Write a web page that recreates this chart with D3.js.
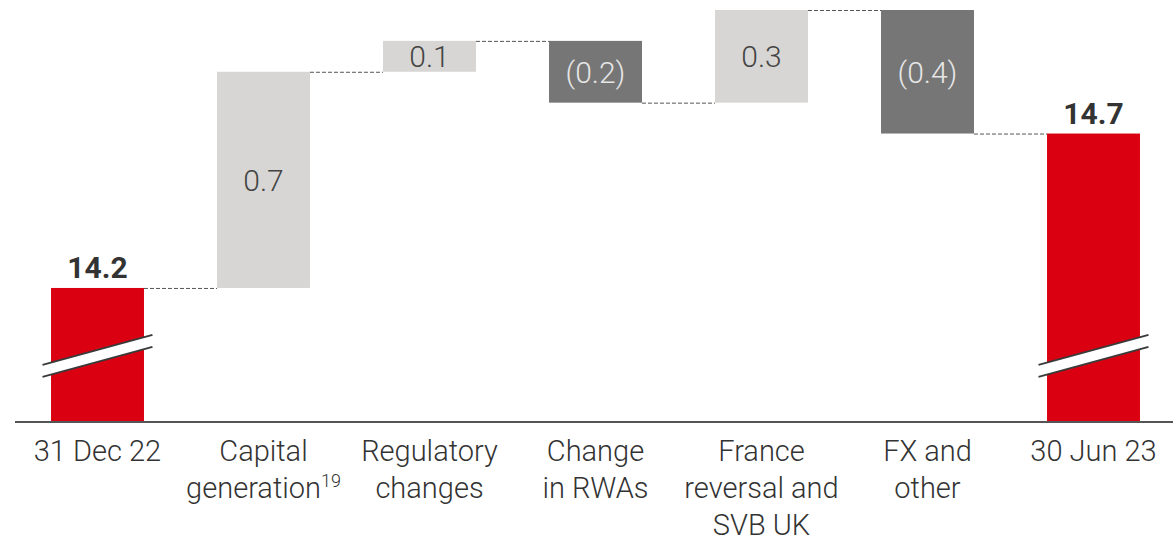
<!DOCTYPE html>
<html>
<head>
<meta charset="utf-8">
<script src="https://cdn.jsdelivr.net/npm/d3@7"></script>
<style>
  html, body { margin: 0; padding: 0; background: #fff; }
  svg { display: block; font-family: Roboto, "Noto Sans", sans-serif; }
</style>
</head>
<body>
<svg id="chart" width="1173" height="542"></svg>
<script>
// CET1 capital walk, $bn
const categories = ["31 Dec 22", "Capital generation", "Regulatory changes", "Change in RWAs",
                    "France reversal and SVB UK", "FX and other", "30 Jun 23"];
const labelLines = [["31 Dec 22"], ["Capital", "generation"], ["Regulatory", "changes"],
                    ["Change", "in RWAs"], ["France", "reversal and", "SVB UK"],
                    ["FX and", "other"], ["30 Jun 23"]];
const footnotes = ["", "19", "", "", "", "", ""];
const kinds = ["total", "delta", "delta", "delta", "delta", "delta", "total"];
const values = [14.2, 0.7, 0.1, -0.2, 0.3, -0.4, 14.7];
const valueLabels = ["14.2", "0.7", "0.1", "(0.2)", "0.3", "(0.4)", "14.7"];

// axis is broken: the baseline stands for this value, break drawn at breakValue
const axisFloor = 13.766;
const axisTop = 15.1;
const breakValue = 13.98;

const W = 1173, H = 542;
const svg = d3.select("#chart");

// build waterfall segments
let running = 0;
const bars = values.map((v, i) => {
  let start, end;
  if (kinds[i] === "total") { start = axisFloor; end = v; running = v; }
  else { start = running; end = running + v; running = end; }
  return { i, cat: categories[i], kind: kinds[i], v, start, end, label: valueLabels[i] };
});

const x = d3.scaleBand().domain(categories).range([14.5, 1176.5])
  .paddingInner(0.44).paddingOuter(0.22);
const y = d3.scaleLinear().domain([axisFloor, axisTop]).range([422, 10]);

const colorOf = d => d.kind === "total" ? "#db0011" : (d.v >= 0 ? "#d7d6d4" : "#767676");

// connectors between consecutive bars
const conn = svg.append("g");
bars.slice(0, -1).forEach((d, k) => {
  const level = d.end;
  conn.append("line")
    .attr("x1", x(d.cat) + x.bandwidth()).attr("x2", x(bars[k + 1].cat))
    .attr("y1", y(level) + 0.5).attr("y2", y(level) + 0.5)
    .attr("stroke", "#555").attr("stroke-width", 1).attr("stroke-dasharray", "4,2");
});

// bars
svg.append("g").selectAll("rect").data(bars).join("rect")
  .attr("x", d => x(d.cat))
  .attr("width", x.bandwidth())
  .attr("y", d => y(Math.max(d.start, d.end)))
  .attr("height", d => Math.abs(y(d.start) - y(d.end)))
  .attr("fill", colorOf);

// axis baseline
svg.append("line").attr("x1", 15).attr("x2", W).attr("y1", y(axisFloor)).attr("y2", y(axisFloor))
  .attr("stroke", "#555").attr("stroke-width", 2);

// break marks on the total bars
const brk = svg.append("g");
bars.filter(d => d.kind === "total").forEach(d => {
  const x0 = x(d.cat) - 8.5, x1 = x(d.cat) + x.bandwidth() + 8.5;
  const cy = y(breakValue);
  const rise = 15, gap = 6;
  const l1 = [[x0, cy + rise - gap], [x1, cy - rise - gap]];
  const l2 = [[x0, cy + rise + gap], [x1, cy - rise + gap]];
  brk.append("polygon")
    .attr("points", [l1[0], l1[1], l2[1], l2[0]].map(p => p.join(",")).join(" "))
    .attr("fill", "#fff");
  [l1, l2].forEach(l => brk.append("line")
    .attr("x1", l[0][0]).attr("y1", l[0][1]).attr("x2", l[1][0]).attr("y2", l[1][1])
    .attr("stroke", "#3a3a3a").attr("stroke-width", 2));
});

// value labels
const vl = svg.append("g").attr("text-anchor", "middle").style("font-size", "30px");
bars.forEach(d => {
  const cx = x(d.cat) + x.bandwidth() / 2;
  if (d.kind === "total") {
    vl.append("text").attr("x", cx).attr("y", y(d.end) - 10)
      .attr("fill", "#333").style("font-weight", 700).text(d.label);
  } else {
    const mid = (y(d.start) + y(d.end)) / 2;
    vl.append("text").attr("x", cx).attr("y", mid).attr("dy", "0.36em")
      .attr("fill", d.v >= 0 ? "#444" : "#e6e6e6").style("font-weight", 300).text(d.label);
  }
});

// category labels
const cl = svg.append("g").attr("text-anchor", "middle").style("font-size", "29px")
  .style("font-weight", 300).attr("fill", "#333");
labelLines.forEach((lines, i) => {
  const cx = x(categories[i]) + x.bandwidth() / 2;
  const t = cl.append("text").attr("x", cx).attr("y", 461);
  lines.forEach((ln, j) => {
    const ts = t.append("tspan").attr("x", cx).attr("y", 461 + j * 37).text(ln);
    if (j === lines.length - 1 && footnotes[i]) {
      ts.append("tspan").attr("dy", -11).style("font-size", "18px").text(footnotes[i]);
    }
  });
});
</script>
</body>
</html>
